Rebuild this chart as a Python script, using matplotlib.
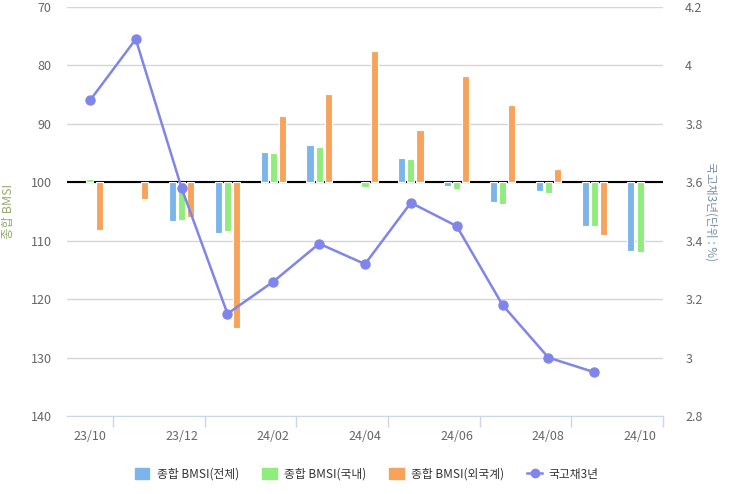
import matplotlib
matplotlib.use("Agg")
import matplotlib.pyplot as plt
import numpy as np
from matplotlib.lines import Line2D
from matplotlib.patches import Patch

plt.rcParams['font.family'] = ['Noto Sans CJK KR', 'DejaVu Sans']

months = ["23/10", "23/11", "23/12", "24/01", "24/02", "24/03", "24/04",
          "24/05", "24/06", "24/07", "24/08", "24/09", "24/10"]
bmsi_total = [100.0, 100.0, 106.6, 108.6, 94.8, 93.6, 100.0, 95.8, 100.7, 103.4, 101.5, 107.5, 111.7]
bmsi_domestic = [99.4, 100.0, 106.5, 108.3, 95.0, 94.0, 100.8, 96.0, 101.1, 103.8, 101.8, 107.4, 112.0]
bmsi_foreign = [108.2, 102.9, 106.0, 125.0, 88.6, 84.9, 77.6, 91.0, 81.8, 86.8, 97.8, 109.0, 100.0]
bond3y = [3.88, 4.09, 3.58, 3.15, 3.26, 3.39, 3.32, 3.53, 3.45, 3.18, 3.00, 2.95, np.nan]

c_blue, c_green, c_orange, c_line = "#7cb5ec", "#90ed7d", "#f7a35c", "#8085e9"

fig = plt.figure(figsize=(7.31, 4.94), dpi=100)
ax = fig.add_axes([67/731, 1-416/494, (663-67)/731, (416-7)/494])
x = np.arange(len(months))
w = 0.155
off = 0.2
base = 100
for vals, c, o in [(bmsi_total, c_blue, -off), (bmsi_domestic, c_green, 0), (bmsi_foreign, c_orange, off)]:
    v = np.array(vals)
    h = v - base
    ax.bar(x + o, h, bottom=base, width=w, color=c,
           edgecolor=["white" if abs(hh) > 0 else "none" for hh in h],
           linewidth=0.8, zorder=3)

ax.set_ylim(140, 70)
ax.set_yticks(range(70, 141, 10))
ax.set_xlim(-0.5, len(months) - 0.5)
ax.grid(axis='y', color="#d6d6d6", linewidth=1, zorder=0)
ax.axhline(100, color="black", linewidth=1.5, zorder=2)
for s in ["left", "right", "top"]:
    ax.spines[s].set_visible(False)
ax.spines["bottom"].set_color("#ccd6eb")
ax.set_xticks(x[::2])
ax.set_xticklabels(months[::2])
ax.set_xticks(np.arange(0.5, len(months), 2), minor=True)
ax.tick_params(axis='x', which='major', length=0, pad=10, labelsize=9, labelcolor="#666666")
ax.tick_params(axis='x', which='minor', length=8, color="#ccd6eb", width=1)
ax.tick_params(axis='y', length=0, pad=11, labelsize=9, labelcolor="#666666")
ax.set_ylabel("종합 BMSI", color="#9aaa70", fontsize=9)
ax.yaxis.set_label_coords(-0.087, 0.5)

ax2 = ax.twinx()
ax2.plot(x, bond3y, color=c_line, linewidth=1.8, marker='o', markersize=6.5, zorder=5)
ax2.set_ylim(2.8, 4.2)
ax2.set_yticks([2.8, 3.0, 3.2, 3.4, 3.6, 3.8, 4.0, 4.2])
ax2.set_yticklabels(["2.8", "3", "3.2", "3.4", "3.6", "3.8", "4", "4.2"])
ax2.tick_params(axis='y', length=0, pad=16, labelsize=9, labelcolor="#666666")
for s in ["left", "right", "top", "bottom"]:
    ax2.spines[s].set_visible(False)
ax2.set_ylabel("국고채3년(단위 : %)", color="#7a8fa8", fontsize=8.5, rotation=270, va='center')
ax2.yaxis.set_label_coords(1.081, 0.5)
ax2.set_zorder(ax.get_zorder() + 1)
ax2.patch.set_visible(False)

handles = [Patch(color=c_blue), Patch(color=c_green), Patch(color=c_orange),
           Line2D([0], [0], color=c_line, marker='o', markersize=6, linewidth=1.8)]
labels = ["종합 BMSI(전체)", "종합 BMSI(국내)", "종합 BMSI(외국계)", "국고채3년"]
fig.legend(handles, labels, loc='center', bbox_to_anchor=(367/731, 1-474/494), ncol=4,
           frameon=False, fontsize=8.5, handlelength=1.2, handleheight=1.0,
           columnspacing=2.0, handletextpad=0.6, labelcolor="#333333")

fig.savefig("out.png", dpi=100)
